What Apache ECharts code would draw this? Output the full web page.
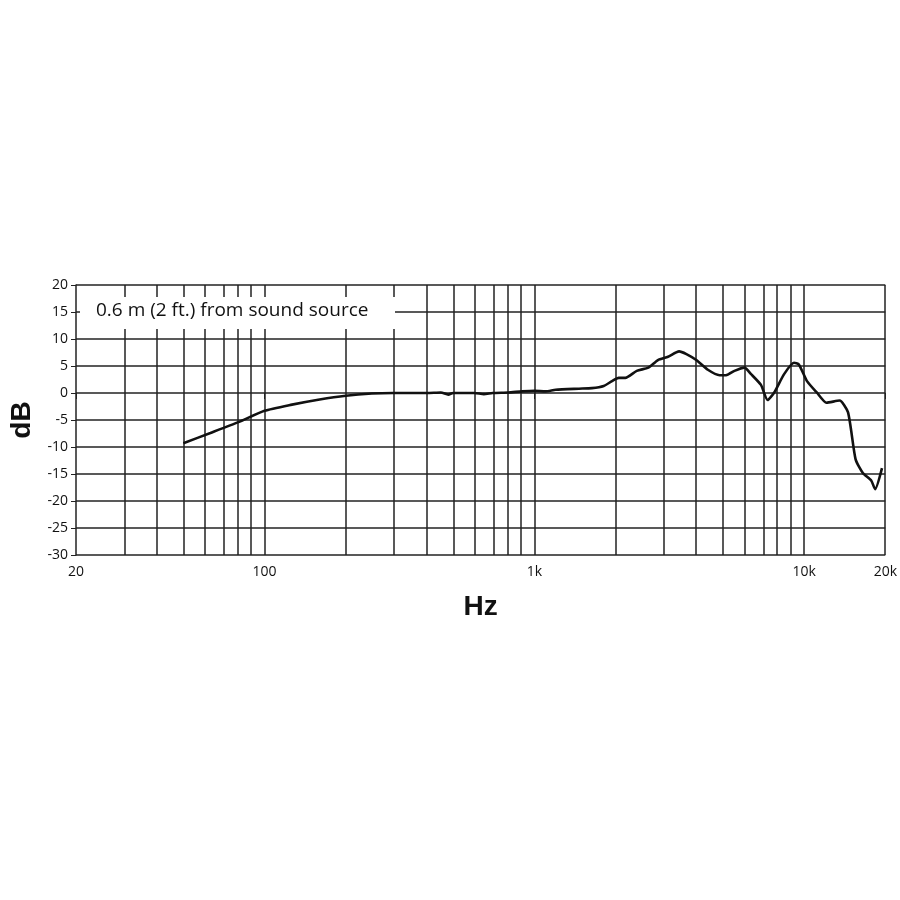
<!DOCTYPE html>
<html>
<head>
<meta charset="utf-8">
<script src="https://cdn.jsdelivr.net/npm/echarts@6/dist/echarts.min.js"></script>
<style>html,body{margin:0;padding:0;background:#fff}#chart{width:900px;height:900px}</style>
</head>
<body>
<div id="chart"></div>
<script>
// frequency response
var freqs = [50, 63, 80, 100, 125, 160, 200, 250, 300, 400, 450, 480, 500, 600, 650, 700, 800, 900, 1000, 1100, 1200, 1463,
    1634, 1808, 1941, 2054, 2175, 2398, 2647, 2872, 3131, 3439, 3662, 3985, 4398, 4860, 5141, 5519, 6007, 6358,
    6919, 7323, 7749, 8431, 9173, 9562, 10250, 11140, 12100, 13530, 14550, 15520, 16510, 17730, 18330, 19440];
var dbs = [-9.3, -7.4, -5.4, -3.3, -2.2, -1.2, -0.5, -0.1, 0, 0, 0.1, -0.3, 0, 0, -0.2, 0, 0.1, 0.3, 0.4, 0.3, 0.6, 0.8,
    0.9, 1.3, 2.2, 2.8, 2.8, 4.1, 4.7, 6.1, 6.7, 7.7, 7.2, 6.1, 4.3, 3.3, 3.3, 4.1, 4.7, 3.5,
    1.5, -1.3, 0.1, 3.5, 5.6, 5.3, 2.2, 0.1, -1.8, -1.4, -3.6, -12.3, -14.8, -16.2, -17.8, -13.9];
var gridFreqs = [30, 40, 50, 60, 70, 80, 90, 100, 200, 300, 400, 500, 600, 700, 800, 900, 1000,
    2000, 3000, 4000, 5000, 6000, 7000, 8000, 9000, 10000];
var labelFreqs = [20, 100, 1000, 10000, 20000];
var labelTexts = ['20', '100', '1k', '10k', '20k'];

var lg = function (f) { return Math.log10(f); };
var chart = echarts.init(document.getElementById('chart'));
var font = '"Open Sans", sans-serif';
var option = {
    animation: false,
    grid: {left: 66, right: 14, top: 285, bottom: 345},
    xAxis: {
        type: 'value',
        min: lg(20), max: lg(20000),
        axisLine: {show: false},
        splitLine: {show: false},
        axisTick: {show: true, customValues: labelFreqs.map(lg), length: 6, lineStyle: {color: '#222'}},
        axisLabel: {
            customValues: labelFreqs.map(lg), color: '#111', fontSize: 14, fontFamily: font, margin: 10,
            formatter: function (v) {
                for (var i = 0; i < labelFreqs.length; i++) {
                    if (Math.abs(lg(labelFreqs[i]) - v) < 1e-6) return labelTexts[i];
                }
                return '';
            }
        },
        name: 'Hz', nameLocation: 'middle', nameGap: 38,
        nameTextStyle: {fontSize: 28, fontWeight: 'bold', color: '#111', fontFamily: 'Arial, sans-serif'}
    },
    yAxis: {
        type: 'value', min: -30, max: 20, interval: 5,
        axisLine: {show: true, lineStyle: {color: '#222', width: 1.5}},
        axisTick: {show: true, length: 5, lineStyle: {color: '#222'}},
        splitLine: {show: true, lineStyle: {color: '#222', width: 1.5}},
        axisLabel: {color: '#111', fontSize: 14, fontFamily: font, margin: 8},
        name: 'dB', nameLocation: 'middle', nameGap: 40,
        nameTextStyle: {fontSize: 28, fontWeight: 'bold', color: '#111', fontFamily: 'Arial, sans-serif'}
    },
    series: [{
        type: 'line',
        data: freqs.map(function (f, i) { return [lg(f), dbs[i]]; }),
        symbol: 'none',
        smooth: 0.2,
        lineStyle: {color: '#111', width: 2.6},
        z: 5,
        markLine: {
            silent: true, symbol: 'none', label: {show: false},
            lineStyle: {color: '#222', width: 1.5, type: 'solid'},
            data: gridFreqs.map(function (f) { return {xAxis: lg(f)}; }).concat([{xAxis: lg(20000)}])
        }
    }],
    graphic: [{
        type: 'rect', left: 80, top: 297, z: 100,
        shape: {width: 315, height: 32},
        style: {fill: '#fff'}
    }, {
        type: 'text', left: 96, top: 301, z: 101,
        style: {text: '0.6 m (2 ft.) from sound source', font: '19px "Open Sans", sans-serif', fill: '#111'}
    }]
};
chart.setOption(option);
</script>
</body>
</html>
